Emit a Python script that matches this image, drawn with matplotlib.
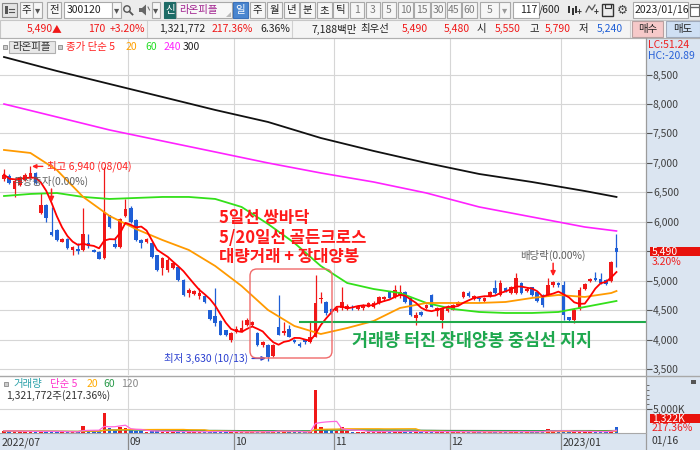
import matplotlib
matplotlib.use("Agg")
import matplotlib.pyplot as plt
from matplotlib.patches import Rectangle, FancyBboxPatch, Circle, Polygon
import numpy as np
import pandas as pd

plt.rcParams['font.family'] = ['Noto Sans CJK KR', 'DejaVu Sans']
plt.rcParams['axes.unicode_minus'] = False

# ---------------- data: 라온피플 (300120) daily candles ----------------
opens = [6730, 6780, 6560, 6620, 6710, 6760, 6830, 6150, 6285, 5820,
         5860, 5660, 5710, 5520, 5540, 5520, 5640, 5520, 5490, 5385,
         6115, 5620, 5570, 6100, 6230, 6030, 5690, 5660, 5640, 5435,
         5215, 5180, 5220, 5230, 5010, 4790, 4770, 4740, 4740, 4500,
         4400, 4320, 4160, 3990, 4130, 4150, 4250, 4240, 4110, 3910,
         3910, 3720, 4210, 4110, 4180, 3990, 3930, 3990, 3960, 4050,
         4700, 4640, 4520, 4480, 4540, 4520, 4560, 4520, 4530, 4560,
         4550, 4620, 4680, 4800, 4720, 4760, 4810, 4700, 4370, 4470,
         4540, 4760, 4480, 4330, 4480, 4510, 4590, 4720, 4790, 4690,
         4710, 4650, 4740, 4880, 4760, 4880, 4790, 4790, 4960, 4820,
         4890, 4800, 4760, 4760, 4930, 4960, 4930, 4380, 4340, 4520,
         4860, 4990, 5040, 5020, 5010, 5000, 5550]
highs = [6900, 6810, 6720, 6780, 6820, 6940, 6850, 6490, 6300, 6250,
         5880, 5720, 5720, 5590, 5640, 6230, 5790, 5530, 5500, 6930,
         6120, 5740, 6060, 6390, 6260, 6040, 5700, 5720, 5650, 5440,
         5400, 5380, 5320, 5240, 5020, 4880, 4840, 4880, 4750, 4510,
         4870, 4330, 4170, 4120, 4230, 4330, 4370, 4310, 4120, 3970,
         3920, 3920, 4760, 4290, 4240, 4010, 3950, 4010, 4300, 5100,
         4810, 4650, 4530, 4550, 4890, 4600, 4580, 4590, 4600, 4640,
         4650, 4740, 4740, 4820, 4930, 4930, 4830, 4710, 4470, 4480,
         4600, 4770, 4560, 4550, 4580, 4600, 4660, 4830, 4820, 4760,
         4720, 4720, 4830, 5010, 5010, 4900, 4910, 5130, 4980, 4900,
         4900, 4810, 4770, 5050, 4990, 4980, 5000, 4390, 4530, 4890,
         4960, 5050, 5140, 5130, 5030, 5340, 5790]
lows = [6700, 6640, 6420, 6600, 6690, 6740, 6640, 6130, 6000, 5760,
        5680, 5650, 5540, 5435, 5450, 5500, 5555, 5480, 5360, 5370,
        5900, 5555, 5550, 6080, 5980, 5680, 5560, 5640, 5390, 5170,
        5100, 5150, 5200, 5000, 4740, 4720, 4750, 4690, 4620, 4340,
        4230, 4070, 4060, 3950, 4110, 4120, 4230, 4230, 3890, 3880,
        3630, 3700, 4070, 4080, 4040, 3940, 3870, 3930, 3940, 4040,
        4620, 4420, 4440, 4460, 4500, 4500, 4510, 4500, 4510, 4550,
        4530, 4600, 4660, 4700, 4700, 4700, 4620, 4400, 4250, 4400,
        4520, 4550, 4400, 4190, 4470, 4500, 4580, 4700, 4720, 4670,
        4660, 4630, 4720, 4780, 4740, 4800, 4770, 4770, 4770, 4800,
        4740, 4640, 4550, 4740, 4900, 4900, 4330, 4320, 4280, 4500,
        4840, 4970, 4990, 4940, 4930, 4980, 5240]
closes = [6800, 6660, 6700, 6760, 6790, 6830, 6660, 6285, 6060, 5780,
          5690, 5710, 5555, 5575, 5505, 5790, 5590, 5490, 5370, 6165,
          5910, 5570, 6045, 6215, 6000, 5690, 5640, 5710, 5400, 5180,
          5385, 5350, 5300, 5010, 4755, 4840, 4820, 4790, 4640, 4350,
          4280, 4080, 4080, 4110, 4180, 4200, 4330, 4290, 3910, 3960,
          3710, 3900, 4080, 4150, 4050, 3960, 3890, 3950, 4050, 4620,
          4720, 4450, 4460, 4530, 4640, 4570, 4530, 4570, 4590, 4620,
          4620, 4720, 4720, 4710, 4840, 4810, 4630, 4420, 4420, 4420,
          4590, 4560, 4540, 4530, 4550, 4590, 4640, 4810, 4740, 4740,
          4680, 4710, 4810, 4790, 4960, 4820, 4890, 5040, 4790, 4860,
          4750, 4660, 4590, 4930, 4970, 4920, 4420, 4340, 4510, 4840,
          4940, 5030, 5010, 4960, 4950, 5320, 5490]
volumes_k = [450, 380, 420, 300, 280, 350, 330, 400, 320, 300,
             280, 250, 260, 240, 230, 1500, 500, 350, 300, 4200,
             1100, 600, 1200, 1000, 600, 500, 350, 300, 400, 450,
             300, 280, 260, 300, 320, 250, 240, 230, 260, 300,
             500, 280, 250, 260, 230, 220, 240, 210, 300, 250,
             350, 300, 700, 300, 260, 220, 200, 210, 300, 9000,
             1200, 800, 600, 500, 1300, 400, 300, 280, 260, 300,
             280, 350, 300, 280, 400, 330, 300, 350, 300, 260,
             250, 300, 280, 350, 260, 240, 250, 300, 260, 240,
             230, 220, 260, 280, 320, 260, 250, 350, 300, 260,
             250, 280, 300, 900, 300, 300, 500, 300, 330, 350,
             300, 280, 270, 260, 280, 700, 1322]
last_volume = 1321772
volume_ratio_pct = 217.36
turnover_pct = 6.36
trade_value_m = 7188
best_ask, best_bid = 5490, 5480

# sessions (KRX holidays removed)
holidays = ['2022-08-15', '2022-09-09', '2022-09-12', '2022-10-03', '2022-10-10', '2022-12-30']
dates = pd.bdate_range('2022-07-28', '2023-01-16').difference(pd.DatetimeIndex(holidays))

# longer moving averages of close (sampled sessions)
ma20_days = list(range(0, 116, 5)) + [116]
ma20_vals = [7219, 7168, 6879, 6421, 6098, 5877, 5690, 5521, 5249, 4909, 4502, 4230,
             4094, 4196, 4315, 4536, 4621, 4621, 4621, 4638, 4706, 4757, 4723, 4790, 4824]
ma60_vals = [6437, 6472, 6488, 6421, 6387, 6404, 6421, 6421, 6387, 6251, 5962, 5640,
             5249, 4960, 4858, 4790, 4621, 4519, 4468, 4451, 4451, 4468, 4553, 4638, 4655]
ma_long_days = list(range(0, 116, 10)) + [116]
ma240_vals = [7999, 7779, 7558, 7371, 7185, 6998, 6828, 6675, 6488, 6251, 6081, 5911, 5843]
ma300_vals = [8797, 8560, 8339, 8119, 7898, 7694, 7422, 7202, 6998, 6811, 6675, 6522, 6421]

events = [('2022-08-10', '무상증자(0.00%)'), ('2022-12-28', '배당락(0.00%)')]
support_level = 4300
support_from = 56
notes_red = "5일선 쌍바닥\n5/20일선 골든크로스\n대량거래 + 장대양봉"
note_green = "거래량 터진 장대양봉 중심선 지지"

# ---------------- layout ----------------
W, H = 700, 450
fig = plt.figure(figsize=(W / 100, H / 100), dpi=100)
fig.patch.set_facecolor('white')

RED = '#f01818'
BLUE = '#1f5fd6'
PANEL = '#dbe5f1'
GRID = '#d6d6d6'
FS = 7.5

def axes_px(x0, y0, x1, y1, **kw):
    return fig.add_axes([x0 / W, 1 - y1 / H, (x1 - x0) / W, (y1 - y0) / H], **kw)

STEP = 5.28      # pixels per session
X0 = 4           # pixel of first session
PPW = 0.0589     # pixels per won
xlim = (-X0 / STEP, (646 - X0) / STEP)

n = len(closes)
idx = np.arange(n)
o = np.array(opens, float); c = np.array(closes, float)
hi = np.array(highs, float); lo = np.array(lows, float)
up = c >= o
cols = np.where(up, RED, BLUE)

# right-side panel background
fig.add_artist(Rectangle((646 / W, 0), 54 / W, (450 - 38) / H, transform=fig.transFigure,
                         facecolor=PANEL, edgecolor='none', zorder=-5))

# ---------------- price panel ----------------
ax = axes_px(0, 38, 646, 375)
ax.set_xlim(*xlim)
ax.set_ylim(3500 - 6 / PPW, 3500 + 331 / PPW)
for s in ax.spines.values():
    s.set_visible(False)
ax.set_xticks([])
ax.yaxis.tick_right()
ax.set_yticks(range(3500, 9000, 500))
ax.set_yticklabels([f'{v:,}' for v in range(3500, 9000, 500)])
ax.tick_params(axis='y', direction='out', length=4, width=0.8, color='#555555',
               labelsize=FS, labelcolor='#404040', pad=1)
ax.grid(axis='y', color=GRID, lw=0.8)
ax.set_axisbelow(True)

month_first = [i for i in range(1, n) if dates[i].month != dates[i - 1].month]
shown_months = [i for i in month_first if i > 10]
for i in shown_months:
    ax.axvline(i - 0.5, color=GRID, lw=0.8, zorder=0)

# candles
ax.vlines(idx, lo, hi, colors=cols, lw=0.9, zorder=2)
body_h = np.maximum(np.abs(c - o), 1.2 / PPW)
body_lo = np.where(np.abs(c - o) < 1.2 / PPW, np.minimum(o, c) - 0.6 / PPW, np.minimum(o, c))
ax.bar(idx, body_h, bottom=body_lo, width=0.68, color=cols, lw=0, zorder=3)

# moving averages
ma5 = pd.Series(c).rolling(5, min_periods=1).mean()
ax.plot(ma_long_days, ma300_vals, color='#111111', lw=1.3, zorder=4)
ax.plot(ma_long_days, ma240_vals, color='#ff22ff', lw=1.2, zorder=4)
ax.plot(ma20_days, ma60_vals, color='#33e01a', lw=1.3, zorder=4)
ax.plot(ma20_days, ma20_vals, color='#ff9a00', lw=1.3, zorder=4)
ax.plot(idx, ma5, color='#ff0000', lw=1.3, zorder=5)

# support line
ax.hlines(support_level, support_from - 0.2, xlim[1], color='#1faa4a', lw=1.5, zorder=5)

# high / low markers
hi_i = int(np.argmax(hi)); lo_i = int(np.argmin(lo))
ax.annotate(f'최고 {int(hi[hi_i]):,} ({dates[hi_i]:%m/%d})', xy=(hi_i + 0.3, hi[hi_i]),
            xytext=(15, 0), textcoords='offset pixels', ha='left', va='center',
            color='#ff2020', fontsize=FS, zorder=6,
            arrowprops=dict(arrowstyle='-|>', color='#ff2020', lw=1, mutation_scale=6,
                            shrinkA=1, shrinkB=0))
ax.annotate(f'최저 {int(lo[lo_i]):,} ({dates[lo_i]:%m/%d})', xy=(lo_i - 0.4, lo[lo_i] + 50),
            xytext=(-18, 0), textcoords='offset pixels', ha='right', va='center',
            color='#2a3fd0', fontsize=FS, zorder=6,
            arrowprops=dict(arrowstyle='-|>', color='#2a3fd0', lw=1, mutation_scale=6,
                            shrinkA=1, shrinkB=0))

# corporate event markers
for d, label in events:
    i = int(dates.get_loc(pd.Timestamp(d)))
    tip = hi[i] + 5 / PPW
    ax.annotate('', xy=(i, tip), xytext=(i, tip + 13 / PPW),
                arrowprops=dict(arrowstyle='-|>', color='#ff2020', lw=1.1, mutation_scale=7,
                                shrinkA=0, shrinkB=0), zorder=6)
    ax.text(i, tip + 21 / PPW, label, ha='center', va='center', fontsize=FS,
            color='#606060', zorder=6)

# current price tag on the scale
yt = ax.get_yaxis_transform()
last = c[-1]; prev = c[-2]
chg = last - prev
ax.add_patch(Rectangle((650 / 646, last - 4.5 / PPW), 54 / 646, 9 / PPW, transform=yt,
                       facecolor='#e8120c', edgecolor='none', clip_on=False, zorder=7))
ax.text(652 / 646, last, f'{int(last):,}', transform=yt, color='white', fontsize=FS,
        va='center', ha='left', clip_on=False, zorder=8)
ax.text(652 / 646, last - 10 / PPW, f'{chg / prev * 100:.2f}%', transform=yt, color='#ee2222',
        fontsize=FS, va='center', ha='left', clip_on=False, zorder=8)

# ---------------- volume panel ----------------
VPX = 4.8 / 1000   # pixels per thousand shares
axv = axes_px(0, 377, 646, 433)
axv.set_xlim(*xlim)
axv.set_ylim(0, 56 / VPX)
for s in axv.spines.values():
    s.set_visible(False)
axv.set_xticks([])
axv.yaxis.tick_right()
axv.set_yticks([5000])
axv.set_yticklabels(['5,000K'])
axv.set_yticks([6000, 7000, 8000, 9000, 10000], minor=True)
axv.tick_params(axis='y', which='major', direction='out', length=4, color='#555555',
                labelsize=FS, labelcolor='#404040', pad=1)
axv.tick_params(axis='y', which='minor', direction='out', length=2, color='#555555')
axv.grid(axis='y', which='major', color=GRID, lw=0.8)
axv.set_axisbelow(True)
for i in shown_months:
    axv.axvline(i - 0.5, color=GRID, lw=0.8, zorder=0)
vol = pd.Series(volumes_k, dtype=float)
axv.bar(idx, vol, width=0.68, color=cols, lw=0, zorder=2)
axv.plot(idx, vol.rolling(120, min_periods=1).mean(), color='#9a9a9a', lw=0.9, zorder=3)
axv.plot(idx, vol.rolling(60, min_periods=1).mean(), color='#2e9e50', lw=0.9, zorder=3)
axv.plot(idx, vol.rolling(20, min_periods=1).mean(), color='#ffaa00', lw=0.9, zorder=3)
axv.plot(idx, vol.rolling(5, min_periods=1).mean(), color='#ff66dd', lw=0.9, zorder=4)

vt = axv.get_yaxis_transform()
vlast = vol.iloc[-1]
axv.add_patch(Rectangle((650 / 646, vlast + 3.3 / VPX), 54 / 646, 9 / VPX, transform=vt,
                        facecolor='#e8120c', edgecolor='none', clip_on=False, zorder=7))
axv.text(652 / 646, vlast + 7.8 / VPX, f'{vlast:,.0f}K', transform=vt,
         color='white', fontsize=FS, va='center', ha='left', clip_on=False, zorder=8)
axv.text(652 / 646, vlast - 1.5 / VPX, f'{volume_ratio_pct:.2f}%', transform=vt,
         color='#ee2222', fontsize=FS, va='center', ha='left', clip_on=False, zorder=8)

# ---------------- date bar ----------------
axd = axes_px(0, 433, 646, 450)
axd.set_facecolor(PANEL)
axd.set_xlim(*xlim)
axd.set_ylim(0, 1)
axd.set_xticks([]); axd.set_yticks([])
for s in axd.spines.values():
    s.set_visible(False)
axd.text(-0.5, 0.45, f'{dates[0]:%Y/%m}', fontsize=FS, color='#333333', va='center', ha='left')
for i in shown_months:
    axd.axvline(i - 0.5, color='#8a8a8a', lw=0.9)
    lab = f'{dates[i]:%Y/%m}' if dates[i].month == 1 else f'{dates[i]:%m}'
    axd.text(i - 0.3, 0.45, lab, fontsize=FS, color='#333333', va='center', ha='left')

# ---------------- overlay (toolbar, frames, notes) ----------------
ui = fig.add_axes([0, 0, 1, 1], zorder=10)
ui.set_xlim(0, W); ui.set_ylim(H, 0)
ui.axis('off')
ui.patch.set_visible(False)

def txt(x, y, s, **kw):
    kw.setdefault('fontsize', FS)
    kw.setdefault('va', 'center')
    kw.setdefault('color', '#222222')
    ui.text(x, y, s, **kw)

def box(x0, x1, y0, y1, fc, ec='#a9a9a9', lw=0.8):
    ui.add_patch(Rectangle((x0, y0), x1 - x0, y1 - y0, facecolor=fc, edgecolor=ec, lw=lw))

def btn(x0, x1, label, fc='#f6f6f6', tc='#222222', y0=2, y1=18, ec='#a9a9a9'):
    box(x0, x1, y0, y1, fc, ec)
    txt((x0 + x1) / 2, (y0 + y1) / 2, label, ha='center', color=tc)

# row 1
box(0, 700, 0, 20, '#ececec', ec='none')
box(2, 17, 3, 17, '#e4e4e4', ec='#888888')
ui.add_patch(Rectangle((5, 6), 3, 8, facecolor='#555555', edgecolor='none'))
ui.plot([9, 14], [9, 9], color='#555555', lw=0.8)
ui.plot([9, 14], [12, 12], color='#555555', lw=0.8)
btn(20, 33, '주')
btn(33, 42, '▾', tc='#555555')
btn(47, 61, '전')
box(64, 112, 2, 18, 'white')
txt(67, 10, '300120', ha='left')
btn(112, 121, '▾', tc='#555555')
ui.add_patch(Circle((127, 9), 3.2, facecolor='none', edgecolor='#555555', lw=1))
ui.plot([129.5, 132.5], [11.5, 14.5], color='#555555', lw=1.3)
ui.add_patch(Polygon([[139, 8], [142, 8], [146, 4.5], [146, 15.5], [142, 12], [139, 12]],
                     closed=True, facecolor='#666666', edgecolor='none'))
ui.plot([148, 149.5], [7, 10], color='#666666', lw=0.7)
btn(152, 160, '▾', tc='#555555')
btn(164, 176, '신', fc='#1e6b66', tc='white', ec='#1e6b66')
box(176, 232, 2, 18, '#f7f7f7')
txt(179, 10, '라온피플', ha='left', color='#a0208e')
ui.add_patch(Polygon([[226, 17], [231, 17], [231, 12]], closed=True, facecolor='#bbbbbb',
                     edgecolor='none'))
btn(233, 248, '일', fc='#4a86d0', tc='white', ec='#3a70b8')
for x0, lab in zip([250, 267, 284, 300, 317, 333], ['주', '월', '년', '분', '초', '틱']):
    btn(x0, x0 + 15, lab)
for x0, x1, lab in [(350, 364, '1'), (366, 380, '3'), (382, 396, '5'), (398, 413, '10'),
                    (414, 430, '15'), (431, 445, '30'), (447, 461, '45'), (462, 477, '60')]:
    btn(x0, x1, lab, tc='#7a7a7a')
btn(480, 499, '5', tc='#7a7a7a')
btn(499, 510, '▾', tc='#999999')
box(513, 539, 2, 18, 'white')
txt(537, 10, f'{n}', ha='right')
txt(539, 10, '/600', ha='left')
# tool icons
for k, dx in enumerate([0, 3.5, 7]):
    ui.add_patch(Rectangle((568 + dx, 6 + (k % 2) * 2), 2, 7, facecolor='#333333', edgecolor='none'))
txt(579, 12, '+', fontsize=6, ha='center', color='#333333', weight='bold')
ui.plot([586, 589, 592, 595], [12, 6, 10, 5], color='#555555', lw=0.9)
txt(596, 12, '+', fontsize=6, ha='center', color='#333333', weight='bold')
ui.add_patch(Rectangle((602, 4), 11, 12, facecolor='none', edgecolor='#333333', lw=1))
ui.add_patch(Rectangle((604.5, 4), 6, 4, facecolor='none', edgecolor='#333333', lw=0.8))
txt(622, 10, '⚙', fontsize=9, ha='center', color='#444444', family=['DejaVu Sans'])
box(633, 688, 2, 18, 'white')
txt(635, 10, f'{dates[-1]:%Y/%m/%d}', ha='left')
box(690, 699, 4, 16, '#ffffff', ec='#666666')
ui.plot([690, 699], [7, 7], color='#666666', lw=1)

# row 2: quote line
box(0, 700, 20, 37.5, '#f4f4f4', ec='#c6c6c6')
for xs in [147, 292, 630]:
    ui.plot([xs, xs], [21, 37], color='#d0d0d0', lw=0.8)
yq = 29
txt(27, yq, f'{int(last):,}', ha='left', color=RED)
txt(52, yq, '▲', ha='left', color=RED, fontsize=7)
txt(105, yq, f'{int(chg):,}', ha='right', color=RED)
txt(145, yq, f'+{chg / prev * 100:.2f}%', ha='right', color=RED)
txt(205, yq, f'{last_volume:,}', ha='right')
txt(253, yq, f'{volume_ratio_pct:.2f}%', ha='right', color=RED)
txt(290, yq, f'{turnover_pct:.2f}%', ha='right')
txt(357, yq, f'{trade_value_m:,}백만', ha='right')
txt(360, yq, '최우선', ha='left')
txt(428, yq, f'{best_ask:,}', ha='right', color=RED)
txt(470, yq, f'{best_bid:,}', ha='right', color=RED)
txt(477, yq, '시', ha='left')
txt(521, yq, f'{int(o[-1]):,}', ha='right', color=RED)
txt(529, yq, '고', ha='left')
txt(571, yq, f'{int(hi[-1]):,}', ha='right', color=RED)
txt(579, yq, '저', ha='left')
txt(623, yq, f'{int(lo[-1]):,}', ha='right', color=BLUE)
btn(632, 663, '매수', fc='#f6c9c9', y0=21, y1=36.5, ec='#b8a0a0')
btn(666, 700, '매도', fc='#cfe0f4', y0=21, y1=36.5, ec='#a0aabb')

# frames
ui.plot([0, 700], [38, 38], color='#b0b0b0', lw=0.8)
ui.plot([646, 646], [38, 450], color='#9c9c9c', lw=0.9)
ui.plot([0, 700], [376, 376], color='#a8a8a8', lw=1.0)
ui.plot([0, 646], [433, 433], color='#a8a8a8', lw=0.8)

# price legend
ui.add_patch(Rectangle((3, 45), 4, 4, facecolor='#cccccc', edgecolor='#888888', lw=0.6))
box(9, 55, 41, 53, '#e8e8e8', ec='#b0b0b0')
txt(12, 47, '라온피플', ha='left', color='#333333')
ui.add_patch(Rectangle((58, 45), 4, 4, facecolor='#cccccc', edgecolor='#888888', lw=0.6))
txt(66, 47, '종가 단순 5', ha='left', color='#ff2020')
txt(126, 47, '20', ha='left', color='#ffa000')
txt(145, 47, '60', ha='left', color='#22dd22')
txt(164, 47, '240', ha='left', color='#ff22ff')
txt(183, 47, '300', ha='left', color='#222222')

# scale extremes
txt(648, 45, f'LC:{(last - lo[lo_i]) / lo[lo_i] * 100:.2f}', ha='left', color='#ee2020')
txt(648, 56, f'HC:{(last - hi[hi_i]) / hi[hi_i] * 100:.2f}', ha='left', color='#2a62d8')

# volume legend
ui.add_patch(Rectangle((4, 382), 4, 4, facecolor='#cccccc', edgecolor='#888888', lw=0.6))
txt(13, 384, '거래량', ha='left', color='#2aa0a8')
txt(50, 384, '단순 5', ha='left', color='#ff33cc')
txt(87, 384, '20', ha='left', color='#ffaa00')
txt(103, 384, '60', ha='left', color='#2a9a4a')
txt(121, 384, '120', ha='left', color='#888888')
txt(6, 396, f'{last_volume:,}주({volume_ratio_pct:.2f}%)', ha='left', color='#333333')
ui.add_patch(Rectangle((691, 380), 5, 4, facecolor='#555555', edgecolor='none'))

# last date on the right of the date bar
txt(651, 441, f'{dates[-1]:%m/%d}', ha='left', color='#333333')

# commentary
ui.add_patch(FancyBboxPatch((250, 269), 82, 89, boxstyle='round,pad=0,rounding_size=7',
                            facecolor='none', edgecolor='#f06a6a', lw=1.0))
txt(219, 209, notes_red, ha='left', va='top', fontsize=12, weight='bold', color='#ff1a1a',
    linespacing=1.12)
txt(352, 341, note_green, ha='left', fontsize=12.5, weight='bold', color='#1ea84e')

fig.savefig('out.png', dpi=100)
